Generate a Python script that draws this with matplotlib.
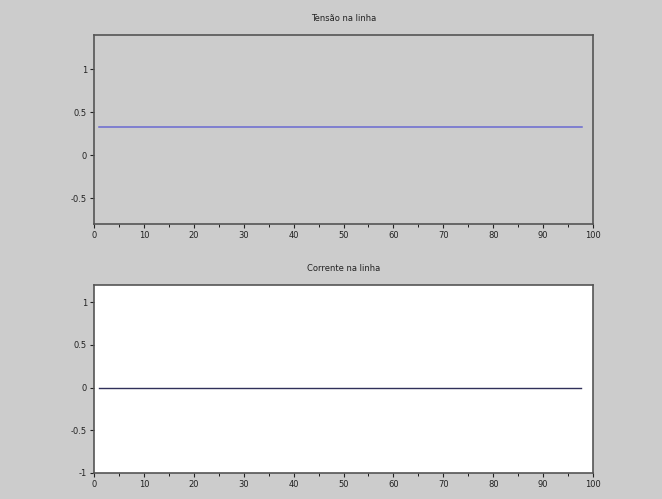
import matplotlib
matplotlib.use('Agg')
import matplotlib.pyplot as plt
from matplotlib.ticker import MultipleLocator

# data (constant signals)
t_tensao = [1, 97.8]
v_tensao = [0.333, 0.333]
t_corrente = [1, 97.6]
i_corrente = [0.0, 0.0]

titles = ['Tensão na linha', 'Corrente na linha']
ylims = [(-0.8, 1.4), (-1.0, 1.2)]
yticks = [[-0.5, 0, 0.5, 1], [-1, -0.5, 0, 0.5, 1]]
xticks = list(range(0, 101, 10))

bg = '#cccccc'
fig = plt.figure(figsize=(6.62, 4.99), dpi=100, facecolor=bg)

ax1 = fig.add_axes([94 / 662, 1 - 224 / 499, 499 / 662, 189 / 499], facecolor=bg)
ax2 = fig.add_axes([94 / 662, 1 - 473 / 499, 499 / 662, 188 / 499], facecolor='white')

ax1.plot(t_tensao, v_tensao, color='#6a6ad0', linewidth=1.1)
ax2.plot(t_corrente, i_corrente, color='#30305a', linewidth=1.0)

for ax, title, yl, yt in zip([ax1, ax2], titles, ylims, yticks):
    ax.set_xlim(0, 100)
    ax.set_ylim(*yl)
    ax.set_xticks(xticks)
    ax.set_yticks(yt)
    ax.set_yticklabels([f'{v:g}' for v in yt])
    ax.xaxis.set_minor_locator(MultipleLocator(5))
    ax.tick_params(labelsize=6, colors='#222222', length=3, width=0.8, pad=2)
    ax.tick_params(which='minor', length=2, width=0.6)
    ax.set_title(title, fontsize=6, color='#222222', pad=10)
    for s in ax.spines.values():
        s.set_color('#555555')
        s.set_linewidth(1.2)

fig.savefig('out.png', dpi=100, facecolor=bg)
